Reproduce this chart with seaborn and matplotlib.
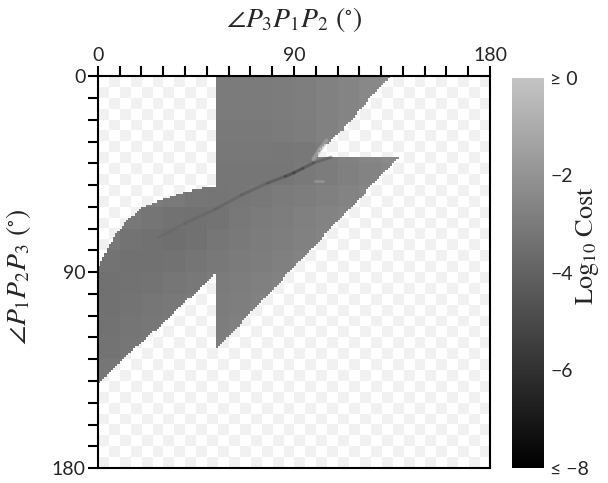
import numpy as np
import matplotlib
matplotlib.use("Agg")
import matplotlib.pyplot as plt
import seaborn as sns
from matplotlib.path import Path
from matplotlib.colors import LinearSegmentedColormap, ListedColormap

n = np.nan

# region outlines (degrees: x = angle P3P1P2, y = angle P1P2P3)
left_top_x = [0, 0, 4.7, 8.5, 13.9, 20.0, 29.2, 37.0, 44.5, 54.0]
left_top_y = [142, 87.5, 78.9, 72.0, 65.9, 60.5, 56.7, 54.0, 52.1, 50.6]
left_bot_x = [0.0, 14.0, 29.2, 42.0, 54.0]
left_bot_y = [141.4, 127.5, 114.2, 102.0, 90.4]

mid_x = [54.0, 134.0, 124.0, 112.5, 101.9, 100.5, 138.7, 54.0]
mid_y = [0.0, 0.0, 11.0, 24.6, 33.7, 36.5, 36.5, 125.6]

# log10 cost on a 10 degree grid (rows: P1P2P3, cols: P3P1P2)
cost_rows = [
    [n, n, n, n, n, -3.0, -3.0, -3.0, -2.95, -2.85, -2.75, -2.6, -2.45, -2.3, n, n, n, n],
    [n, n, n, n, n, -3.0, -3.0, -3.0, -2.95, -2.85, -2.75, -2.6, -2.45, -2.35, n, n, n, n],
    [n, n, n, n, n, -3.05, -3.05, -3.05, -3.0, -2.9, -2.75, -2.55, -2.4, n, n, n, n, n],
    [n, n, n, n, n, -3.1, -3.1, -3.1, -3.15, -3.1, -2.9, -2.75, -2.55, -2.4, n, n, n, n],
    [n, n, n, n, n, -3.2, -3.2, -3.2, -3.2, -3.05, -2.95, -2.8, -2.65, -2.5, n, n, n, n],
    [n, n, -2.95, -3.05, -3.2, -3.25, -3.2, -3.1, -3.0, -2.9, -2.8, -2.65, -2.55, n, n, n, n, n],
    [-2.95, -3.1, -3.25, -3.35, -3.4, -3.3, -3.1, -3.0, -2.9, -2.8, -2.65, -2.55, n, n, n, n, n, n],
    [-3.1, -3.3, -3.4, -3.45, -3.4, -3.2, -3.05, -2.95, -2.85, -2.75, -2.6, n, n, n, n, n, n, n],
    [-3.3, -3.4, -3.4, -3.35, -3.25, -3.1, -3.0, -2.9, -2.8, -2.65, n, n, n, n, n, n, n, n],
    [-3.4, -3.35, -3.3, -3.2, -3.1, -3.0, -2.9, -2.8, -2.7, n, n, n, n, n, n, n, n, n],
    [-3.4, -3.3, -3.2, -3.1, -3.0, -2.95, -2.85, -2.75, n, n, n, n, n, n, n, n, n, n],
    [-3.35, -3.25, -3.15, -3.05, -2.95, -2.9, -2.8, n, n, n, n, n, n, n, n, n, n, n],
    [-3.3, -3.2, -3.1, -3.0, -2.9, -2.85, n, n, n, n, n, n, n, n, n, n, n, n],
    [-3.2, -3.1, -3.0, -2.9, -2.85, -2.8, n, n, n, n, n, n, n, n, n, n, n, n],
    [-3.1, -3.0, -2.9, -2.85, n, n, n, n, n, n, n, n, n, n, n, n, n, n],
    [n] * 18,
    [n] * 18,
    [n] * 18,
]

# dark valley of the cost surface and the light streaks near the notch
valley_x = [28, 40, 54, 66, 78, 86, 90, 94, 99, 107]
valley_y = [74, 67.5, 61, 54.5, 49, 46, 44.3, 42.3, 39.8, 37.2]
valley_v = [-3.7, -3.9, -4.1, -4.3, -4.6, -5.4, -6.4, -5.6, -4.8, -4.4]
light_x = [99.0, 102.0, 105.0]
light_y = [38.0, 33.5, 29.5]
light_v = [-0.9, -1.1, -1.5]
spot_x = [99.5, 103.5]
spot_y = [48.3, 48.3]
spot_v = -1.2

cbar_ticks = [0, -2, -4, -6, -8]
cbar_labels = ["\u2265 0", "\u22122", "\u22124", "\u22126", "\u2264 \u22128"]
axis_ticks = list(range(0, 181, 10))
axis_labels = ["0" if t == 0 else "90" if t == 90 else "180" if t == 180 else "" for t in axis_ticks]

# build the 1 degree field
size = 180
cells = np.arange(size) + 0.5
gx, gy = np.meshgrid(cells, cells)
pts = np.column_stack([gx.ravel(), gy.ravel()])
left_poly = list(zip(left_top_x, left_top_y)) + list(zip(left_bot_x[::-1], left_bot_y[::-1]))
inside = Path(left_poly).contains_points(pts) | Path(list(zip(mid_x, mid_y))).contains_points(pts)
field = np.kron(np.array(cost_rows, dtype=float), np.ones((10, 10)))
field[~inside.reshape(size, size)] = np.nan

sns.set_style("white")
plt.rcParams["mathtext.fontset"] = "stix"
plt.rcParams["font.family"] = ["Lato", "DejaVu Sans"]

cmap = LinearSegmentedColormap.from_list("costgray", ["#000000", "#c4c4c4"])

fig = plt.figure(figsize=(6.08, 4.83), dpi=100)
ax = fig.add_axes([0.161, 0.031, 0.645, 0.811])
cax = fig.add_axes([0.842, 0.031, 0.052, 0.808])

sns.heatmap(field, ax=ax, cmap=cmap, vmin=-8, vmax=0, cbar_ax=cax,
            xticklabels=False, yticklabels=False, rasterized=True)

# checkerboard behind empty cells
checker = (np.add.outer(np.arange(36), np.arange(36)) % 2)
ax.imshow(checker, cmap=ListedColormap(["#ffffff", "#f1f1f1"]), extent=(0, 180, 180, 0),
          interpolation="nearest", aspect="auto", zorder=0)

norm = plt.Normalize(-8, 0)
for i in range(len(valley_x) - 1):
    vv = (valley_v[i] + valley_v[i + 1]) / 2
    ax.plot(valley_x[i:i + 2], valley_y[i:i + 2], color=cmap(norm(vv)), lw=2.2,
            alpha=0.5, solid_capstyle="round", zorder=2)
for i in range(len(light_x) - 1):
    ax.plot(light_x[i:i + 2], light_y[i:i + 2], color=cmap(norm(light_v[i])), lw=3.0,
            alpha=0.6, solid_capstyle="round", zorder=2)
ax.plot(spot_x, spot_y, color=cmap(norm(spot_v)), lw=2.0, alpha=0.5,
        solid_capstyle="round", zorder=2)

ax.set_xlim(0, 180)
ax.set_ylim(180, 0)
ax.xaxis.tick_top()
ax.xaxis.set_label_position("top")
ax.set_xticks(axis_ticks)
ax.set_xticklabels(axis_labels, fontsize=14)
ax.set_yticks(axis_ticks)
ax.set_yticklabels(axis_labels, fontsize=14)
ax.tick_params(axis="both", direction="out", length=7, width=1.5, color="black", pad=2)
ax.tick_params(axis="x", top=True, bottom=False)
ax.tick_params(axis="y", left=True, right=False)
for sp in ax.spines.values():
    sp.set_visible(True)
    sp.set_linewidth(1.5)
    sp.set_color("black")

ax.set_xlabel(r"$\angle P_3P_1P_2\ (^{\circ})$", fontsize=20, labelpad=14)
ax.set_ylabel(r"$\angle P_1P_2P_3\ (^{\circ})$", fontsize=20)
ax.yaxis.set_label_coords(-0.165, 0.49)

cax.set_yticks(cbar_ticks)
cax.set_yticklabels(cbar_labels, fontsize=14)
cax.tick_params(length=0, pad=5)
for sp in cax.spines.values():
    sp.set_visible(False)
cax.set_ylabel(r"$\mathrm{Log_{10}\ Cost}$", fontsize=19)
cax.yaxis.set_label_position("right")
cax.yaxis.set_label_coords(1.95, 0.57)

fig.savefig("out.png", dpi=100)
